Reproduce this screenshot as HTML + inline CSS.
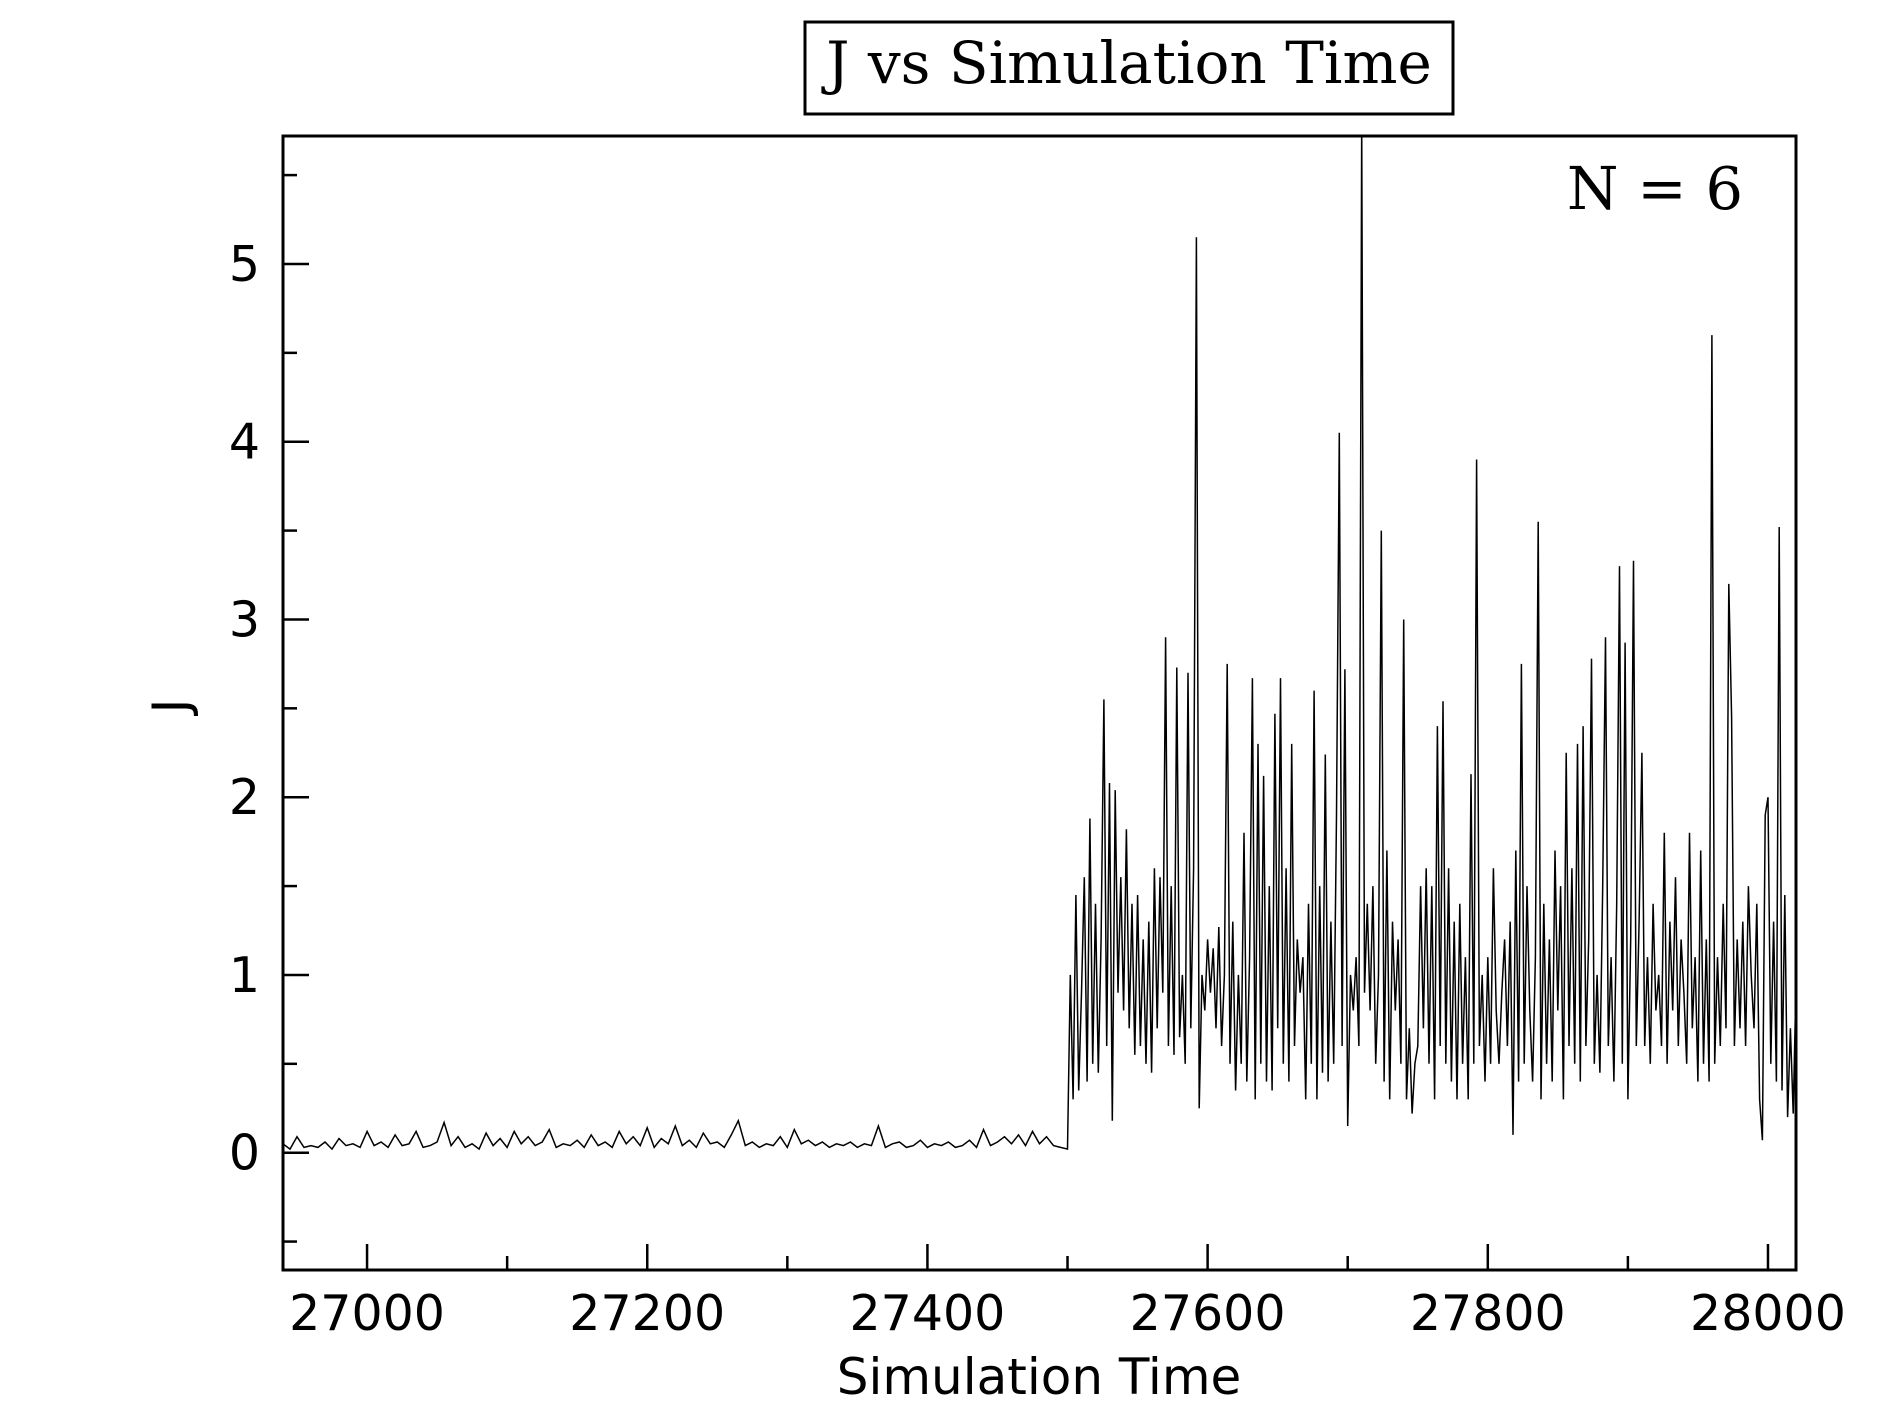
<!DOCTYPE html>
<html><head><meta charset="utf-8"><style>
html,body{margin:0;padding:0;background:#fff;}
svg{display:block;}
</style></head><body>
<svg id="chart" width="1889" height="1417" xmlns="http://www.w3.org/2000/svg">
<rect x="805" y="22" width="648" height="92" fill="#fff" stroke="#000" stroke-width="3"/>
<text x="1129" y="83" text-anchor="middle" font-family="'DejaVu Serif','Liberation Serif',serif" font-size="58">J vs Simulation Time</text>
<g id="plot"></g>
<text x="1743" y="209" text-anchor="end" font-family="'DejaVu Serif','Liberation Serif',serif" font-size="59">N = 6</text>
<text x="1039" y="1394" text-anchor="middle" font-family="'DejaVu Sans','Liberation Sans',sans-serif" font-size="50">Simulation Time</text>
<text transform="translate(188,706) rotate(-90)" text-anchor="middle" font-family="'DejaVu Sans','Liberation Sans',sans-serif" font-size="50">J</text>
</svg>
<script>
const xTicks = [27000, 27200, 27400, 27600, 27800, 28000];
const yTicks = [0, 1, 2, 3, 4, 5];
const baseStart = 26940, baseStep = 5;
const baseValues = [.05,.02,.09,.03,.04,.03,.06,.02,.08,.04,.05,.03,.12,.04,
.06,.03,.10,.04,.05,.12,.03,.04,.06,.17,.04,.09,.03,.05,
.02,.11,.04,.08,.03,.12,.05,.09,.04,.06,.13,.03,.05,.04,
.07,.03,.10,.04,.06,.03,.12,.05,.09,.04,.14,.03,.08,.05,
.15,.04,.07,.03,.11,.05,.06,.03,.10,.18,.04,.06,.03,.05,
.04,.09,.03,.13,.05,.07,.04,.06,.03,.05,.04,.06,.03,.05,
.04,.15,.03,.05,.06,.03,.04,.07,.03,.05,.04,.06,.03,.04,
.07,.03,.13,.04,.06,.09,.05,.10,.04,.12,.05,.09,.04,.03];
const chaosStart = 27500, chaosStep = 2;
const chaosValues = [0.02,1.0,0.3,1.45,0.35,0.9,1.55,0.4,1.88,0.5,
1.4,0.45,1.2,2.55,0.6,2.08,0.18,2.04,0.9,1.55,
0.8,1.82,0.7,1.4,0.55,1.45,0.6,1.2,0.5,1.3,
0.45,1.6,0.7,1.55,0.9,2.9,0.6,1.5,0.55,2.73,
0.65,1.0,0.5,2.7,0.7,1.6,5.15,0.25,1.0,0.8,
1.2,0.9,1.15,0.7,1.27,0.6,1.0,2.75,0.5,1.3,
0.35,1.0,0.5,1.8,0.4,1.1,2.67,0.3,2.3,0.5,
2.12,0.4,1.5,0.35,2.47,0.7,2.67,0.5,1.6,0.4,
2.3,0.6,1.2,0.9,1.1,0.3,1.4,0.5,2.6,0.3,
1.5,0.45,2.24,0.4,1.3,0.5,1.9,4.05,0.6,2.72,
0.15,1.0,0.8,1.1,0.6,5.8,0.9,1.4,0.8,1.5,
0.5,1.0,3.5,0.4,1.7,0.3,1.3,0.8,1.2,0.5,
3.0,0.3,0.7,0.22,0.5,0.6,1.5,0.7,1.6,0.5,
1.5,0.3,2.4,0.6,2.54,0.5,1.6,0.4,1.3,0.3,
1.4,0.5,1.1,0.3,2.13,0.5,3.9,0.6,1.0,0.4,
1.1,0.5,1.6,0.8,0.5,0.9,1.2,0.6,1.3,0.1,
1.7,0.4,2.75,0.5,1.5,0.8,0.4,1.1,3.55,0.3,
1.4,0.5,1.2,0.4,1.7,0.8,1.5,0.3,2.25,0.6,
1.6,0.5,2.3,0.4,2.4,0.6,1.2,2.78,0.5,1.0,
0.45,1.5,2.9,0.6,1.1,0.4,1.4,3.3,0.5,2.87,
0.3,1.2,3.33,0.6,1.3,2.25,0.6,1.1,0.5,1.4,
0.8,1.0,0.6,1.8,0.5,1.3,0.8,1.55,0.6,1.2,
0.9,0.5,1.8,0.7,1.1,0.4,1.7,0.5,1.2,0.4,
4.6,0.5,1.1,0.6,1.4,0.7,3.2,2.45,0.6,1.2,
0.7,1.3,0.6,1.5,1.0,0.7,1.4,0.3,0.07,1.9,
2.0,0.5,1.3,0.4,3.52,0.35,1.45,0.2,0.7,0.22,
0.95];

const L=283,R=1796,T=136,B=1270;
const xMin=26940,xMax=28020,yMin=-0.66,yMax=5.72;
const xs=v=>L+(v-xMin)/(xMax-xMin)*(R-L);
const ys=v=>B-(v-yMin)/(yMax-yMin)*(B-T);
const NS='http://www.w3.org/2000/svg';
const plot=document.getElementById('plot');
function mk(tag,attrs){const e=document.createElementNS(NS,tag);for(const k in attrs)e.setAttribute(k,attrs[k]);plot.appendChild(e);return e;}

const pts=[];
baseValues.forEach((v,i)=>pts.push([xs(baseStart+i*baseStep),ys(v)]));
chaosValues.forEach((v,i)=>pts.push([xs(chaosStart+i*chaosStep),ys(v)]));
const cp=mk('clipPath',{id:'clip'});
const cr=document.createElementNS(NS,'rect');cr.setAttribute('x',L);cr.setAttribute('y',T);cr.setAttribute('width',R-L);cr.setAttribute('height',B-T);cp.appendChild(cr);
const line=mk('polyline',{points:pts.map(p=>p[0].toFixed(1)+','+p[1].toFixed(1)).join(' '),fill:'none',stroke:'#000','stroke-width':1.5,'stroke-linejoin':'miter','clip-path':'url(#clip)'});



const frame=mk('rect',{x:L,y:T,width:R-L,height:B-T,fill:'none',stroke:'#000','stroke-width':3});



for(let v=27000;v<=28000;v+=100){
  const major=xTicks.includes(v);
  const t=mk('line',{x1:xs(v),x2:xs(v),y1:B,y2:B-(major?26:14),stroke:'#000','stroke-width':2.5});
  
  
}
xTicks.forEach(v=>{
  const t=mk('text',{x:xs(v),y:1330,'text-anchor':'middle','font-family':"'DejaVu Sans','Liberation Sans',sans-serif",'font-size':49});
  t.textContent=v;
  
  
});
for(let v=-0.5;v<=5.5;v+=0.5){
  const major=yTicks.includes(v);
  const t=mk('line',{x1:L,x2:L+(major?26:14),y1:ys(v),y2:ys(v),stroke:'#000','stroke-width':2.5});
  
  
}
yTicks.forEach(v=>{
  const t=mk('text',{x:260,y:ys(v)+17,'text-anchor':'end','font-family':"'DejaVu Sans','Liberation Sans',sans-serif",'font-size':49});
  t.textContent=v;
  
  
});
</script>
</body></html>
